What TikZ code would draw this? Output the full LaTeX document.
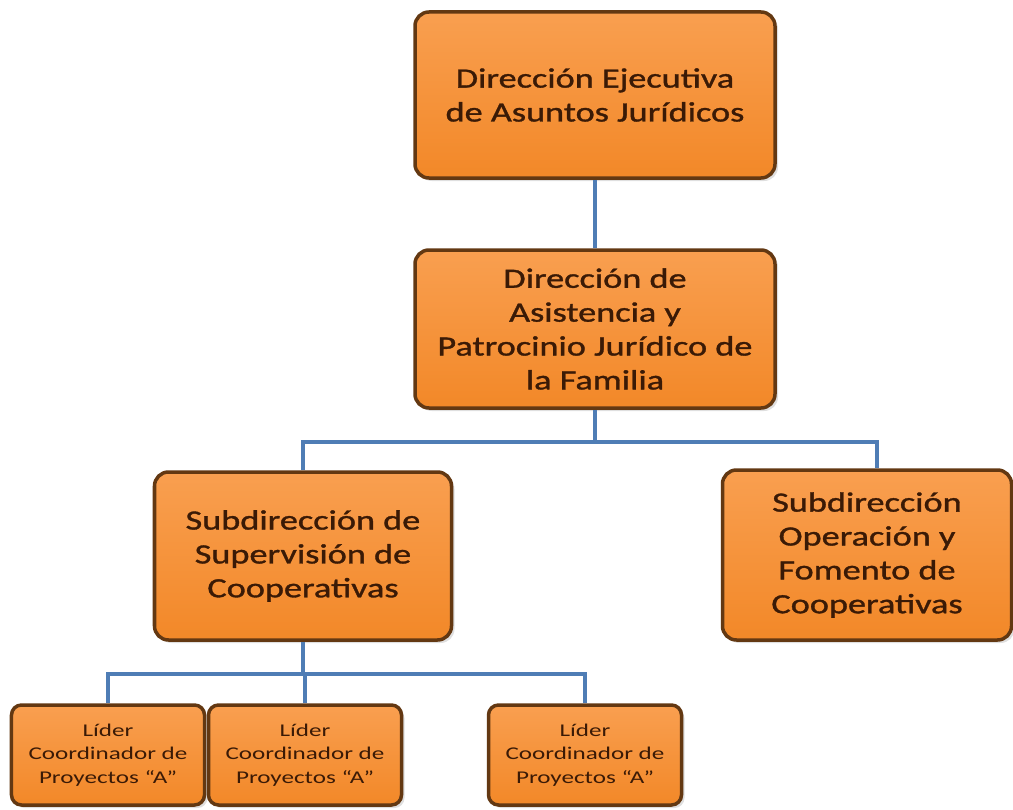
\documentclass[tikz,border=0pt]{standalone}
\usepackage{fontspec}
\setmainfont{Carlito}[FakeStretch=1.3, FakeBold=1.2]
\newfontfamily\leaderfont{Carlito}[FakeStretch=1.4]
\usetikzlibrary{positioning,calc,shadows}
\definecolor{boxborder}{HTML}{633812}
\definecolor{boxtop}{HTML}{F99F50}
\definecolor{boxbottom}{HTML}{F28828}
\definecolor{boxtext}{HTML}{3A1A06}
\definecolor{linkblue}{HTML}{4F7DB5}
\tikzstyle{Unit} = [draw=boxborder, line width=3.5bp, rounded corners=14bp, top color=boxtop, bottom color=boxbottom, text=boxtext, align=center, drop shadow={opacity=0.25, shadow xshift=3bp, shadow yshift=-3bp}, font=\fontsize{28}{34}\selectfont]
\tikzstyle{Leader} = [Unit, rounded corners=10bp, minimum width=193bp, minimum height=100bp, font=\leaderfont\fontsize{18}{23.5}\selectfont]
\tikzstyle{Link} = [draw=linkblue, line width=4bp]

\begin{document}
\begin{tikzpicture}[x=1bp, y=-1bp]
        \useasboundingbox (0,0) rectangle (1013,810);

        %%%%% Top Line %%%%%

        \draw node[Unit, minimum width=360bp, minimum height=166bp] at (595,95) (DE) {Dirección Ejecutiva\\de Asuntos Jurídicos};

        %%%%% Second Line %%%%%

        \draw node[Unit, minimum width=360bp, minimum height=158bp] at (595,329) (DA) {Dirección de\\Asistencia y\\Patrocinio Jurídico de\\la Familia};

        %%%%% Third Line %%%%%

        \draw node[Unit, minimum width=297bp, minimum height=168bp] at (303,556) (SS) {Subdirección de\\Supervisión de\\Cooperativas};
        \draw node[Unit, minimum width=289bp, minimum height=170bp] at (867,555) (SO) {Subdirección\\Operación y\\Fomento de\\Cooperativas};

        %%%%% Bottom Line %%%%%

        \draw node[Leader] at (108,755) (L1) {Líder\\Coordinador de\\Proyectos “A”};
        \draw node[Leader] at (305,755) (L2) {Líder\\Coordinador de\\Proyectos “A”};
        \draw node[Leader] at (585,755) (L3) {Líder\\Coordinador de\\Proyectos “A”};

        %%%%% Connecting Lines %%%%%

        \coordinate (busA) at ($(DA.south)+(0,32)$);
        \coordinate (busS) at ($(SS.south)+(0,32)$);

        \begin{scope}[on background layer/.try]
        \draw [Link] (DE) -- (DA);
        \draw [Link] (DA.south) -- (busA);
        \draw [Link] (busA) -| (SS.north);
        \draw [Link] (busA) -| ($(SO.north)+(10,0)$);
        \draw [Link] (SS.south) -- (busS);
        \draw [Link] (busS) -| (L1.north);
        \draw [Link] (busS) -| (L2.north);
        \draw [Link] (busS) -| (L3.north);
        \end{scope}

\end{tikzpicture}
\end{document}
